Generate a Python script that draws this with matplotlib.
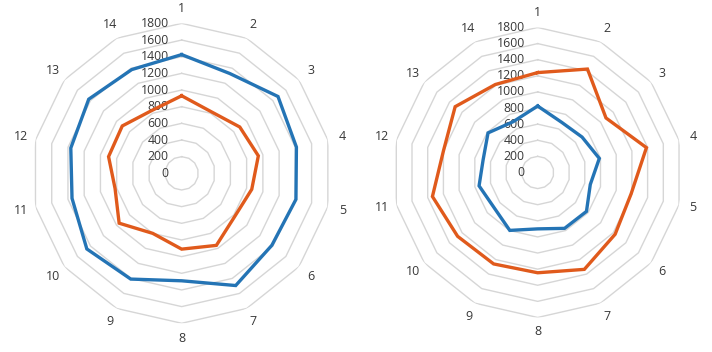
import matplotlib.pyplot as plt
import numpy as np
from matplotlib.transforms import offset_copy

plt.rcParams['font.family'] = ['Open Sans', 'DejaVu Sans']

categories = [str(i) for i in range(1, 15)]
levels = [0, 200, 400, 600, 800, 1000, 1200, 1400, 1600, 1800]

# left chart
left_blue = [1425, 1330, 1479, 1413, 1407, 1385, 1495, 1290, 1409, 1456, 1350, 1365, 1427, 1382]
left_orange = [931, 820, 892, 944, 863, 820, 960, 910, 800, 960, 820, 900, 912, 835]

# right chart
right_blue = [825, 690, 705, 785, 670, 775, 770, 700, 798, 695, 746, 695, 788, 700]
right_orange = [1240, 1425, 1085, 1385, 1190, 1230, 1335, 1245, 1260, 1271, 1340, 1200, 1310, 1212]

blue = '#2474b5'
orange = '#e05a1c'
grid_col = '#d6d6d6'
text_col = '#383838'


def radar(ax, blue_vals, orange_vals, fig):
    n = len(categories)
    theta = np.linspace(0, 2 * np.pi, n, endpoint=False)
    th = np.append(theta, theta[0])
    ax.set_theta_zero_location('N')
    ax.set_theta_direction(-1)
    ax.set_ylim(0, levels[-1])
    ax.grid(False)
    ax.spines['polar'].set_visible(False)
    ax.set_xticks([])
    ax.set_yticks([])
    ax.patch.set_alpha(0)

    # polygon gridlines
    for lv in levels[1:]:
        ax.plot(th, [lv] * len(th), color=grid_col, lw=1.0, zorder=1)

    for vals, col in [(orange_vals, orange), (blue_vals, blue)]:
        v = np.append(vals, vals[0])
        ax.plot(th, v, color=col, lw=2.4, zorder=3, solid_joinstyle='miter')

    for t, c in zip(theta, categories):
        ax.text(t, levels[-1] * 1.1, c, ha='center', va='center',
                fontsize=9, color=text_col)

    # value labels sit just left of the vertical axis
    trans = offset_copy(ax.transData, fig=fig, x=-13, y=0, units='dots')
    for lv in levels:
        ax.text(0, lv, str(lv), ha='right', va='center', fontsize=8.8,
                color=text_col, transform=trans, zorder=2)


fig = plt.figure(figsize=(7.12, 3.52), dpi=100)
ax1 = fig.add_axes([0.0445, 0.0816, 0.4213, 0.852], projection='polar')
ax2 = fig.add_axes([0.5515, 0.098, 0.4073, 0.824], projection='polar')
radar(ax1, left_blue, left_orange, fig)
radar(ax2, right_blue, right_orange, fig)

fig.savefig('out.png', dpi=100)
